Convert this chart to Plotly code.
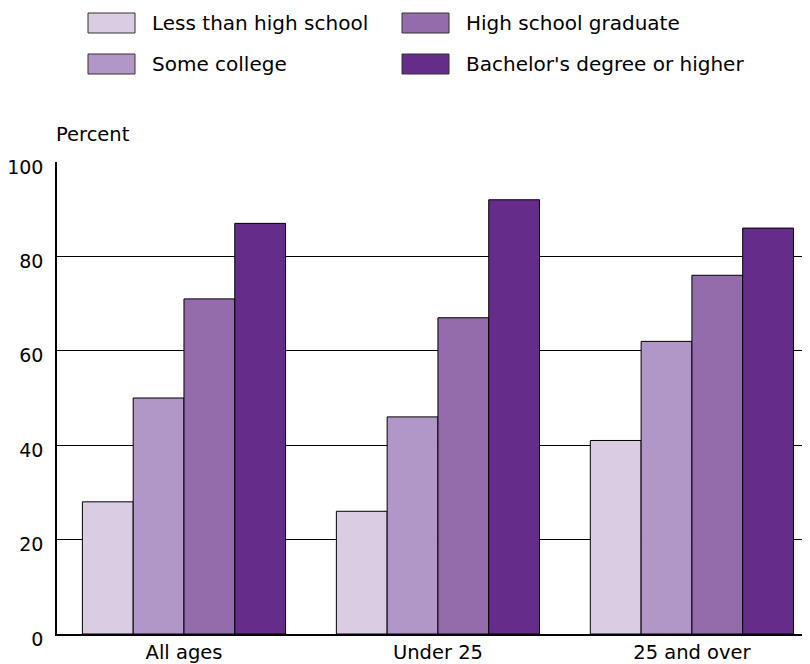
import plotly.graph_objects as go

categories = ["All ages", "Under 25", "25 and over"]
series_names = ["Less than high school", "Some college", "High school graduate", "Bachelor's degree or higher"]
less_than_hs = [28, 26, 41]
some_college = [50, 46, 62]
hs_graduate = [71, 67, 76]
bachelors = [87, 92, 86]
y_ticks = [0, 20, 40, 60, 80, 100]
colors = ["#d9cce3", "#b197c7", "#946cab", "#652d89"]

# bar order within each group
bar_order = [
    (series_names[0], less_than_hs, colors[0]),
    (series_names[1], some_college, colors[1]),
    (series_names[2], hs_graduate, colors[2]),
    (series_names[3], bachelors, colors[3]),
]

FONT = "DejaVu Sans"
fig = go.Figure()
xpos = list(range(len(categories)))
for name, vals, col in bar_order:
    fig.add_trace(go.Bar(
        x=xpos, y=vals, name=name,
        marker=dict(color=col, line=dict(color="black", width=1)),
        showlegend=False,
    ))

# page body has an 8px margin; figure sized to fill the rest of the window
fig.update_layout(
    width=802, height=656,
    margin=dict(l=49, r=0, t=154, b=30, pad=0, autoexpand=False),
    paper_bgcolor="white", plot_bgcolor="white",
    barmode="group", bargap=0.2, bargroupgap=0,
    font=dict(family=FONT, size=20, color="black"),
    xaxis=dict(
        tickmode="array", tickvals=xpos, ticktext=categories,
        range=[-0.5, 2.465], showgrid=False, zeroline=False,
        showline=True, linecolor="black", linewidth=2,
        ticks="", tickfont=dict(size=19.5), automargin=False,
    ),
    yaxis=dict(
        range=[0, 100], tickvals=y_ticks, showgrid=True,
        gridcolor="black", gridwidth=1, zeroline=False,
        showline=True, linecolor="black", linewidth=1.5,
        ticks="outside", ticklen=8, tickcolor="rgba(0,0,0,0)",
        tickfont=dict(size=19), ticklabelshift=5, automargin=False,
    ),
)

fig.add_annotation(text="Percent", xref="paper", yref="paper", x=0, y=1,
                   xanchor="left", yanchor="bottom", yshift=14, xshift=-3,
                   showarrow=False, font=dict(size=19.5))

# custom legend (2 columns x 2 rows), order as in the reference
legend_layout = [
    (series_names[0], colors[0], 88, 23),
    (series_names[1], colors[1], 88, 64),
    (series_names[2], colors[2], 402, 23),
    (series_names[3], colors[3], 402, 64),
]
for name, col, px, py in legend_layout:
    fig.add_shape(type="rect", xref="paper", yref="paper",
                  x0=(px - 57) / 753, x1=(px + 47 - 57) / 753,
                  y0=(634 - (py + 10)) / 472, y1=(634 - (py - 10)) / 472,
                  fillcolor=col, line=dict(color="#333333", width=1))
    fig.add_annotation(text=name, xref="paper", yref="paper",
                       x=(px + 62 - 57) / 753, y=(634 - py) / 472,
                       xanchor="left", yanchor="middle", showarrow=False,
                       font=dict(size=20))

fig.write_html("out.html")
